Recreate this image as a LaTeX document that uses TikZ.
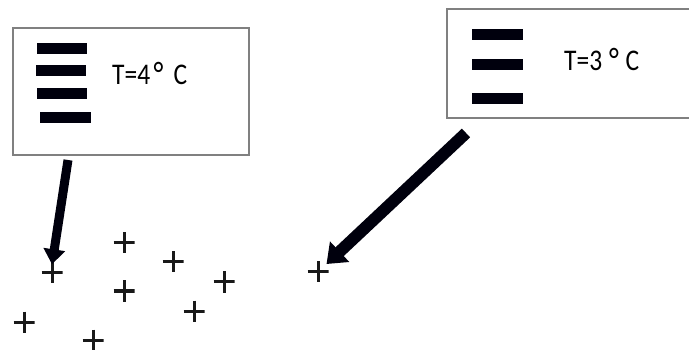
\documentclass[tikz,border=0pt]{standalone}
\usepackage{fontspec}
\setmainfont{Carlito}
\usetikzlibrary{arrows.meta}
\newcommand{\degmark}{\raisebox{-1.5pt}{\fontsize{34}{34}\selectfont °}}
\begin{document}
\begin{tikzpicture}[x=1pt,y=-1pt,
  panel/.style={draw=black!50,line width=1.3pt,fill=white,inner sep=0pt},
  bar/.style={fill=black!95!blue},
  label/.style={font=\fontsize{30}{32}\selectfont,inner sep=0pt,anchor=west},
  plusmark/.style={minimum size=21pt,inner sep=0pt,
    path picture={\draw[line width=3pt,black!90]
      (path picture bounding box.north) -- (path picture bounding box.south)
      (path picture bounding box.west) -- (path picture bounding box.east);}},
  bigarrow/.style={draw=black!95!blue,line width=#1}
]
\useasboundingbox (0,0) rectangle (689,350);
\fill[white] (0,0) rectangle (689,350);
% left panel
\draw[panel] (13,28) rectangle (249,155);
\fill[bar] (37,43.5) rectangle (87,54.5);
\fill[bar] (36,65.5) rectangle (86,76.5);
\fill[bar] (37,88) rectangle (87,99);
\fill[bar] (40,112) rectangle (91,123);
\node[label] (t4) at (112,74) {\scalebox{0.85}[1]{T=4\hspace{4pt}\degmark\hspace{12pt}C}};
% right panel
\draw[panel] (447,9) rectangle (695,118);
\fill[bar] (472,29) rectangle (523,40);
\fill[bar] (472,59.5) rectangle (523,70.5);
\fill[bar] (472,93) rectangle (523,104);
\node[label] (t3) at (564,60) {\scalebox{0.85}[1]{T=3\hspace{8pt}\degmark\hspace{8pt}C}};
% plus marks
\node[plusmark] (p1) at (52,273) {};
\node[plusmark] (p2) at (124,243) {};
\node[plusmark] (p3) at (173,262) {};
\node[plusmark] (p4) at (224,282) {};
\node[plusmark] (p5) at (124,291) {};
\node[plusmark] (p6) at (194,311) {};
\node[plusmark] (p7) at (24,322) {};
\node[plusmark] (p8) at (93,340) {};
\node[plusmark] (p9) at (318,272) {};
% arrows
\coordinate (a1) at (68,160);
\coordinate (a2) at (466,133);
\draw[bigarrow=9pt,-{Triangle[width=21pt,length=15pt]}] (a1) -- ([yshift=-2pt]p1.north);
\draw[bigarrow=12pt,-{Triangle[width=27pt,length=18pt]},shorten >=-3pt] (a2) -- (p9);
\end{tikzpicture}
\end{document}
